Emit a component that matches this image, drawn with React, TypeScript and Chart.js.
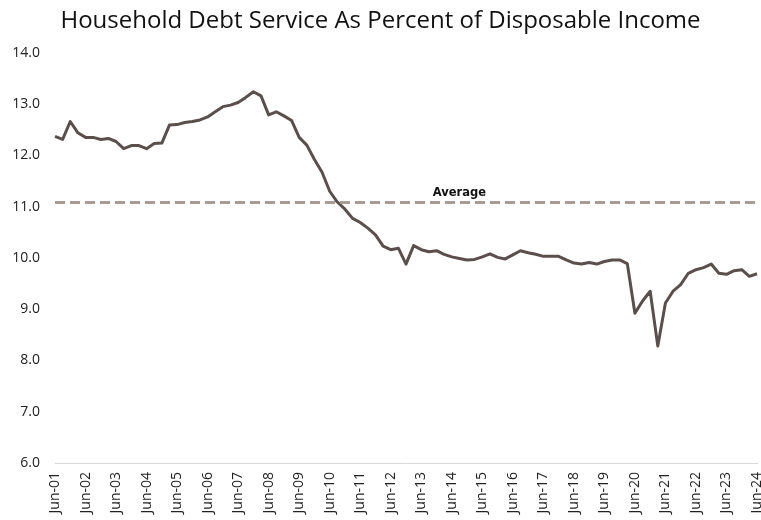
import React, { useEffect, useRef } from "react";
import { Chart, registerables } from "chart.js";

Chart.register(...registerables);

const TITLE = "Household Debt Service As Percent of Disposable Income";

const QUARTERS = [
  "Jun-01", "Sep-01", "Dec-01", "Mar-02", "Jun-02", "Sep-02", "Dec-02", "Mar-03",
  "Jun-03", "Sep-03", "Dec-03", "Mar-04", "Jun-04", "Sep-04", "Dec-04", "Mar-05",
  "Jun-05", "Sep-05", "Dec-05", "Mar-06", "Jun-06", "Sep-06", "Dec-06", "Mar-07",
  "Jun-07", "Sep-07", "Dec-07", "Mar-08", "Jun-08", "Sep-08", "Dec-08", "Mar-09",
  "Jun-09", "Sep-09", "Dec-09", "Mar-10", "Jun-10", "Sep-10", "Dec-10", "Mar-11",
  "Jun-11", "Sep-11", "Dec-11", "Mar-12", "Jun-12", "Sep-12", "Dec-12", "Mar-13",
  "Jun-13", "Sep-13", "Dec-13", "Mar-14", "Jun-14", "Sep-14", "Dec-14", "Mar-15",
  "Jun-15", "Sep-15", "Dec-15", "Mar-16", "Jun-16", "Sep-16", "Dec-16", "Mar-17",
  "Jun-17", "Sep-17", "Dec-17", "Mar-18", "Jun-18", "Sep-18", "Dec-18", "Mar-19",
  "Jun-19", "Sep-19", "Dec-19", "Mar-20", "Jun-20", "Sep-20", "Dec-20", "Mar-21",
  "Jun-21", "Sep-21", "Dec-21", "Mar-22", "Jun-22", "Sep-22", "Dec-22", "Mar-23",
  "Jun-23", "Sep-23", "Dec-23", "Mar-24", "Jun-24",
];

const DEBT_SERVICE = [
  12.37, 12.31, 12.66, 12.44, 12.35, 12.35, 12.31, 12.33, 12.27, 12.13, 12.19, 12.19, 12.13, 12.23, 12.24, 12.59, 12.6,
  12.64, 12.66, 12.69, 12.75, 12.85, 12.95, 12.98, 13.03, 13.13, 13.24, 13.16, 12.79, 12.85, 12.77, 12.68, 12.35,
  12.2, 11.92, 11.67, 11.3, 11.09, 10.95, 10.77, 10.69, 10.58, 10.45, 10.23, 10.16, 10.19, 9.88, 10.24,
  10.16, 10.12, 10.14, 10.07, 10.02, 9.99, 9.96, 9.97, 10.02, 10.08, 10.01, 9.98, 10.06, 10.14, 10.1, 10.07,
  10.03, 10.03, 10.03, 9.96, 9.9, 9.88, 9.91, 9.88, 9.93, 9.96, 9.96, 9.89, 8.92, 9.16, 9.35, 8.28,
  9.12, 9.35, 9.48, 9.7, 9.77, 9.81, 9.88, 9.7, 9.68, 9.75, 9.77, 9.64, 9.69,
];

const AVERAGE = 11.08;
const AVERAGE_LABEL = "Average";
const AVERAGE_LABEL_AT = "Sep-14";

const Y_MIN = 6;
const Y_MAX = 14;

const averagePlugin = {
  id: "averageLine",
  afterDatasetsDraw(chart: any) {
    const { ctx, chartArea, scales } = chart;
    const y = scales.y.getPixelForValue(AVERAGE);
    ctx.save();
    ctx.strokeStyle = "#a99b96";
    ctx.lineWidth = 3;
    ctx.setLineDash([10, 5]);
    ctx.beginPath();
    ctx.moveTo(chartArea.left, y);
    ctx.lineTo(chartArea.right, y);
    ctx.stroke();
    ctx.setLineDash([]);
    const idx = QUARTERS.indexOf(AVERAGE_LABEL_AT);
    const x = scales.x.getPixelForValue(idx);
    ctx.fillStyle = "#111";
    ctx.font = "bold 11.5px 'DejaVu Sans', sans-serif";
    ctx.textAlign = "center";
    ctx.textBaseline = "bottom";
    ctx.fillText(AVERAGE_LABEL, x, y - 4);
    ctx.restore();
  },
};

export default function App() {
  const ref = useRef<HTMLCanvasElement | null>(null);

  useEffect(() => {
    document.body.style.margin = "0";
    document.body.style.overflow = "hidden";
    const canvas = ref.current;
    if (!canvas) return;
    const chart = new Chart(canvas, {
      type: "line",
      data: {
        labels: QUARTERS,
        datasets: [
          {
            label: "Debt service",
            data: DEBT_SERVICE,
            borderColor: "#5a4f4c",
            backgroundColor: "#5a4f4c",
            borderWidth: 3,
            pointRadius: 0,
            tension: 0,
            borderJoinStyle: "round",
          },
        ],
      },
      options: {
        animation: false,
        responsive: false,
        maintainAspectRatio: false,
        layout: { padding: { left: 4, right: 4, top: 0, bottom: 0 } },
        plugins: {
          legend: { display: false },
          tooltip: { enabled: false },
          title: {
            display: true,
            text: TITLE,
            color: "#111",
            font: { family: "'Open Sans', sans-serif", size: 24, weight: "normal" },
            padding: { top: 7, bottom: 17 },
          },
        },
        scales: {
          x: {
            grid: { display: false, drawTicks: false },
            border: { display: true, color: "#d9d9d9", width: 1 },
            afterFit: (scale: any) => {
              scale.paddingRight = 0;
              scale.paddingLeft = 0;
              scale.height = 57;
            },
            ticks: {
              autoSkip: false,
              maxRotation: 90,
              minRotation: 90,
              padding: 9,
              color: "#222",
              font: { family: "'Open Sans', sans-serif", size: 14 },
              callback: (_v: any, i: number) => (i % 4 === 0 ? QUARTERS[i] : null),
            },
          },
          y: {
            min: Y_MIN,
            max: Y_MAX,
            grid: { display: false, drawTicks: false },
            border: { display: false },
            afterFit: (scale: any) => {
              scale.width = 51;
            },
            ticks: {
              stepSize: 1,
              padding: 15,
              color: "#222",
              font: { family: "'Open Sans', sans-serif", size: 14 },
              callback: (v: any) => Number(v).toFixed(1),
            },
          },
        },
      },
      plugins: [averagePlugin],
    });
    return () => chart.destroy();
  }, []);

  return <canvas ref={ref} width={761} height={520} style={{ display: "block" }} />;
}
